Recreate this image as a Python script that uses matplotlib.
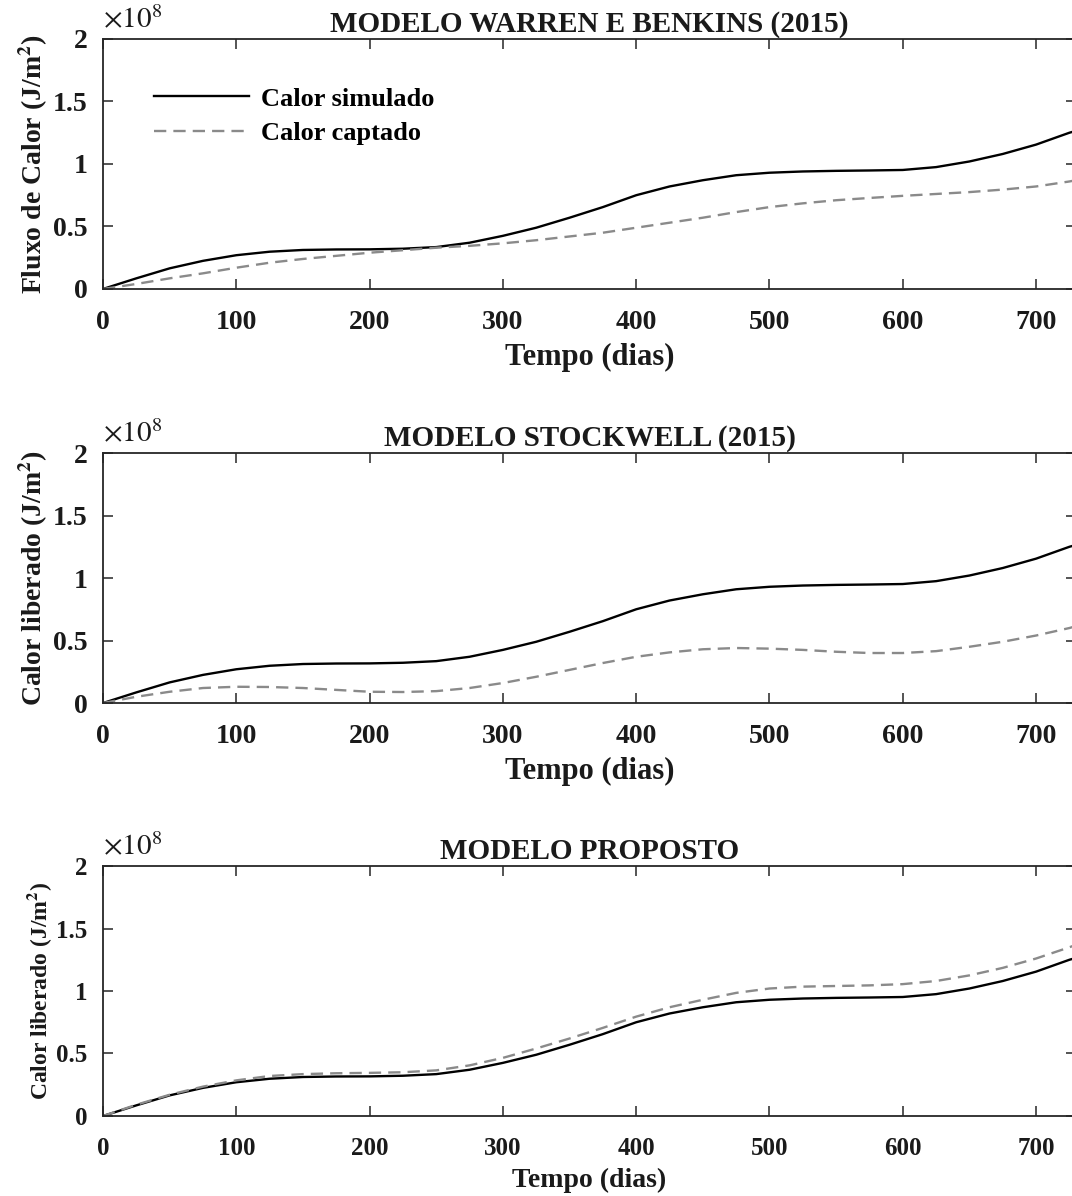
import numpy as np
import matplotlib
matplotlib.use('Agg')
import matplotlib.pyplot as plt

plt.rcParams['font.family'] = ['Liberation Serif', 'DejaVu Serif']
plt.rcParams['mathtext.fontset'] = 'stix'
plt.rcParams['axes.titleweight'] = 'bold'
plt.rcParams['axes.labelweight'] = 'bold'

# dias
dias = [0, 25, 50, 75, 100, 125, 150, 175, 200, 225, 250, 275, 300, 325, 350,
        375, 400, 425, 450, 475, 500, 525, 550, 575, 600, 625, 650, 675, 700,
        725, 730]

# calor simulado (x1e8 J/m2), igual nos tres graficos
calor_simulado = [0, 0.085, 0.165, 0.225, 0.27, 0.298, 0.312, 0.316, 0.317,
                  0.322, 0.335, 0.37, 0.425, 0.49, 0.57, 0.655, 0.75, 0.82,
                  0.87, 0.91, 0.93, 0.94, 0.945, 0.948, 0.952, 0.975, 1.02,
                  1.08, 1.155, 1.25, 1.265]

# calor captado / liberado por cada modelo (x1e8 J/m2)
captado_warren = [0, 0.04, 0.085, 0.125, 0.17, 0.21, 0.24, 0.265, 0.29, 0.31,
                  0.33, 0.345, 0.365, 0.39, 0.42, 0.45, 0.49, 0.53, 0.57,
                  0.615, 0.655, 0.685, 0.71, 0.728, 0.745, 0.76, 0.775, 0.795,
                  0.82, 0.86, 0.87]
captado_stockwell = [0, 0.05, 0.09, 0.12, 0.13, 0.128, 0.12, 0.105, 0.09,
                     0.088, 0.095, 0.12, 0.16, 0.21, 0.265, 0.32, 0.37, 0.405,
                     0.43, 0.44, 0.435, 0.425, 0.41, 0.4, 0.4, 0.415, 0.45,
                     0.49, 0.54, 0.6, 0.615]
captado_proposto = [0, 0.09, 0.17, 0.235, 0.285, 0.32, 0.335, 0.342, 0.345,
                    0.35, 0.365, 0.405, 0.465, 0.54, 0.62, 0.705, 0.795, 0.87,
                    0.93, 0.985, 1.02, 1.035, 1.04, 1.045, 1.055, 1.08, 1.125,
                    1.185, 1.26, 1.35, 1.37]

titulos = ['MODELO WARREN E BENKINS (2015)', 'MODELO STOCKWELL (2015)',
           'MODELO PROPOSTO']
ylabels = ['Fluxo de Calor (J/m$\\mathbf{^2}$)', 'Calor liberado (J/m$\\mathbf{^2}$)',
           'Calor liberado (J/m$\\mathbf{^2}$)']
captados = [captado_warren, captado_stockwell, captado_proposto]

yticks = [0, 0.5, 1, 1.5, 2]
ytick_labels = ['0', '0.5', '1', '1.5', '2']
xticks = [0, 100, 200, 300, 400, 500, 600, 700]

# tamanhos de fonte por grafico (o terceiro e menor)
tam_ticks = [20, 20, 18]
tam_xlabel = [22, 22, 20]
tam_ylabel = [20, 20, 17]
tam_titulo = [21, 21, 21]

fig = plt.figure(figsize=(10.72, 11.96), dpi=100)
bottoms = [0.7584, 0.4122, 0.0669]
borda = '#262626'
texto = '#1a1a1a'

for i in range(3):
    ax = fig.add_axes([0.0961, bottoms[i], 0.9077, 0.209])
    ax.plot(dias, calor_simulado, color='black', lw=1.7, label='Calor simulado')
    ax.plot(dias, captados[i], color='#8a8a8a', lw=1.7, dashes=(5.2, 3.0),
            label='Calor captado')
    ax.set_xlim(0, 730)
    ax.set_ylim(0, 2)
    ax.set_xticks(xticks)
    ax.set_yticks(yticks)
    ax.set_yticklabels(ytick_labels)
    ax.tick_params(direction='in', length=7, width=1.1, top=True, right=True,
                   labelsize=tam_ticks[i], colors=borda, labelcolor=texto)
    ax.tick_params(axis='x', pad=15)
    ax.tick_params(axis='y', pad=11)
    for lab in ax.get_xticklabels() + ax.get_yticklabels():
        lab.set_fontweight('bold')
    for s in ax.spines.values():
        s.set_linewidth(1.3)
        s.set_color(borda)
    ax.set_xlabel('Tempo (dias)', fontsize=tam_xlabel[i], labelpad=6, color=texto)
    ax.set_ylabel(ylabels[i], fontsize=tam_ylabel[i], labelpad=2, color=texto)
    ax.set_title(titulos[i], fontsize=tam_titulo[i], pad=5, color=texto)
    ax.text(0.0, 1.02, '$\\times10^{8}$', transform=ax.transAxes,
            fontsize=21, ha='left', va='bottom', color=texto)
    if i == 0:
        ax.legend(loc='upper left', bbox_to_anchor=(0.042, 0.85), frameon=False,
                  prop={'size': 19, 'weight': 'bold'}, handlelength=3.6,
                  handletextpad=0.45, labelspacing=0.42, borderaxespad=0)

fig.savefig('out.png', dpi=100)
